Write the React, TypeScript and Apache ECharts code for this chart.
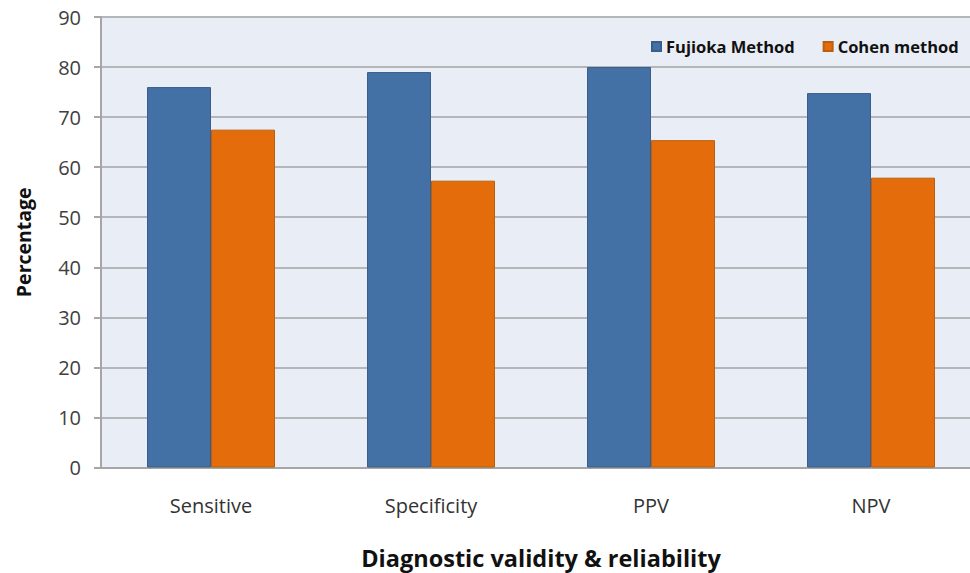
import React, { useEffect, useRef } from "react";
import * as echarts from "echarts";

const categories = ["Sensitive", "Specificity", "PPV", "NPV"];
const fujiokaValues = [76, 79, 80, 74.8];
const cohenValues = [67.5, 57.3, 65.4, 57.9];
const seriesNames = ["Fujioka Method", "Cohen method"];

const FONT = "'Open Sans', 'Noto Sans', sans-serif";

export default function App() {
  const ref = useRef<HTMLDivElement>(null);

  useEffect(() => {
    if (!ref.current) return;
    const chart = echarts.init(ref.current, null, { renderer: "svg" });
    chart.setOption({
      animation: false,
      backgroundColor: "#ffffff",
      grid: {
        left: 101,
        top: 17,
        width: 880,
        height: 450.5,
        show: true,
        backgroundColor: "#E9EDF5",
        borderWidth: 0,
        outerBoundsMode: "none",
        containLabel: false,
      },
      legend: {
        left: 646,
        top: 33,
        itemWidth: 9,
        itemHeight: 9,
        itemGap: 28,
        icon: "rect",
        textStyle: {
          fontFamily: FONT,
          fontWeight: "bold",
          fontSize: 16.5,
          color: "#111",
        },
        data: seriesNames,
      },
      xAxis: {
        type: "category",
        data: categories,
        name: "Diagnostic validity & reliability",
        nameLocation: "middle",
        nameGap: 78,
        nameTextStyle: {
          fontFamily: FONT,
          fontWeight: "bold",
          fontSize: 23.5,
          color: "#111",
        },
        axisLine: { lineStyle: { color: "#A6A6A6", width: 2 } },
        axisTick: { show: false },
        axisLabel: {
          margin: 28,
          fontFamily: FONT,
          fontSize: 20,
          color: "#333",
        },
      },
      yAxis: {
        type: "value",
        min: 0,
        max: 90,
        interval: 10,
        name: "Percentage",
        nameLocation: "middle",
        nameGap: 68,
        nameTextStyle: {
          fontFamily: FONT,
          fontWeight: "bold",
          fontSize: 19.5,
          color: "#111",
        },
        axisLine: { show: true, lineStyle: { color: "#A6A6A6", width: 2 } },
        axisTick: { show: true, length: 7, lineStyle: { color: "#A6A6A6", width: 2 } },
        splitLine: { lineStyle: { color: "#B4B6BA", width: 2 } },
        axisLabel: {
          margin: 20,
          fontFamily: FONT,
          fontSize: 20,
          color: "#404040",
        },
      },
      series: [
        {
          name: seriesNames[0],
          type: "bar",
          data: fujiokaValues,
          barWidth: 64,
          barGap: "0%",
          itemStyle: { color: "#4471A5", borderColor: "#3A5E8A", borderWidth: 1 },
        },
        {
          name: seriesNames[1],
          type: "bar",
          data: cohenValues,
          barWidth: 64,
          barGap: "0%",
          itemStyle: { color: "#E46C0A", borderColor: "#B8600F", borderWidth: 1 },
        },
      ],
    });
    return () => chart.dispose();
  }, []);

  return (
    <div
      ref={ref}
      style={{ position: "absolute", left: 0, top: 0, width: 970, height: 573 }}
    />
  );
}
